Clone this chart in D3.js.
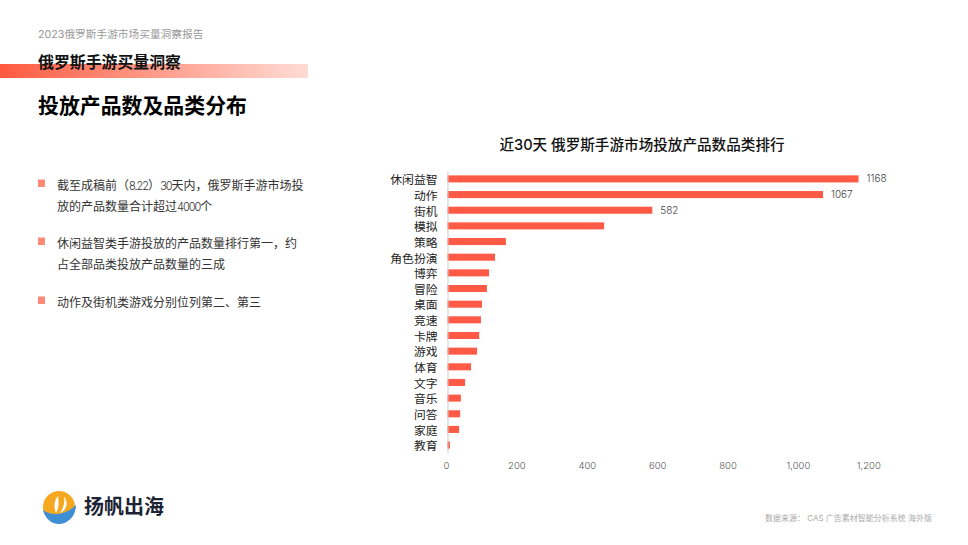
<!DOCTYPE html>
<html>
<head>
<meta charset="utf-8">
<script src="https://cdn.jsdelivr.net/npm/d3@7"></script>
<style>
  html, body { margin: 0; padding: 0; background: #fff; }
  svg { display: block; }
  text { font-family: Inter, "Noto Sans CJK SC", sans-serif; }
</style>
</head>
<body>
<div id="chart"></div>
<script>
// Values
var categories = ["休闲益智", "动作", "街机", "模拟", "策略", "角色扮演", "博弈", "冒险", "桌面", "竞速", "卡牌", "游戏", "体育", "文字", "音乐", "问答", "家庭", "教育"];
var productCounts = [1168, 1067, 582, 445, 166, 135, 118, 112, 98, 95, 90, 84, 67, 50, 38, 36, 33, 7];
var labelled = ["休闲益智", "动作", "街机"];
var xTicks = [0, 200, 400, 600, 800, 1000, 1200];
var bullets = [
  ["截至成稿前（8.22）30天内，俄罗斯手游市场投", "放的产品数量合计超过4000个"],
  ["休闲益智类手游投放的产品数量排行第一，约", "占全部品类投放产品数量的三成"],
  ["动作及街机类游戏分别位列第二、第三"]
];

var svg = d3.select("#chart").append("svg").attr("width", 968).attr("height", 545);

// Header band with the fade to the right
var grad = svg.append("defs").append("linearGradient").attr("id", "band");
grad.append("stop").attr("offset", "0%").attr("stop-color", "#ff5a40");
grad.append("stop").attr("offset", "100%").attr("stop-color", "#ffdcd4");
svg.append("rect").attr("x", 0).attr("y", 64).attr("width", 308).attr("height", 14).attr("fill", "url(#band)");

svg.append("text").attr("x", 38).attr("y", 38).attr("font-size", 10.7).attr("fill", "#999").text("2023俄罗斯手游市场买量洞察报告");
svg.append("text").attr("x", 38).attr("y", 68).attr("font-size", 15.9).attr("font-weight", 700).attr("fill", "#111").text("俄罗斯手游买量洞察");
svg.append("text").attr("x", 38).attr("y", 113).attr("font-size", 20.9).attr("font-weight", 700).attr("fill", "#000").text("投放产品数及品类分布");

// Left text column, digits are set tighter than the Chinese text
var bulletTop = [186, 244, 303];
bullets.forEach(function (lines, i) {
  svg.append("rect").attr("x", 38).attr("y", bulletTop[i] - 6.5).attr("width", 7).attr("height", 7.5).attr("fill", "#fd8a76");
  lines.forEach(function (line, j) {
    var t = svg.append("text").attr("x", 57).attr("y", bulletTop[i] + 3.5 + j * 21.5).attr("font-size", 12).attr("fill", "#333");
    line.split(/([0-9.]+)/).forEach(function (part) {
      var s = t.append("tspan").text(part);
      if (/^[0-9.]+$/.test(part)) s.attr("font-size", 11).attr("font-weight", 300).attr("letter-spacing", -1);
    });
  });
});

// Chart
var x = d3.scaleLinear().domain([0, 1200]).range([447.5, 869.8]);
var y = d3.scaleBand().domain(categories).range([171, 453]).paddingInner(0.55).paddingOuter(0.28);

svg.append("text").attr("x", 642).attr("y", 150).attr("text-anchor", "middle").attr("font-size", 14.6).attr("font-weight", 500).attr("fill", "#111").text("近30天 俄罗斯手游市场投放产品数品类排行");

svg.selectAll("rect.bar").data(categories).enter().append("rect")
  .attr("class", "bar")
  .attr("x", x(0))
  .attr("y", function (d) { return y(d); })
  .attr("width", function (d, i) { return x(productCounts[i]) - x(0); })
  .attr("height", y.bandwidth())
  .attr("fill", "#ff5a45");

var yAxis = svg.append("g").attr("transform", "translate(" + x(0) + ",0)")
  .call(d3.axisLeft(y).tickSize(0).tickPadding(10));
yAxis.select(".domain").attr("stroke", "#ccc");
yAxis.selectAll("text").attr("font-size", 11.8).attr("fill", "#222").attr("dy", "0.45em");

var xAxis = svg.append("g").attr("transform", "translate(-1.5,454)")
  .call(d3.axisBottom(x).tickValues(xTicks).tickSize(0).tickPadding(8).tickFormat(d3.format(",")));
xAxis.select(".domain").remove();
xAxis.selectAll("text").attr("font-size", 9.5).attr("font-weight", 300).attr("fill", "#555");

svg.selectAll("text.value").data(labelled).enter().append("text")
  .attr("class", "value")
  .attr("x", function (d) { return x(productCounts[categories.indexOf(d)]) + 8; })
  .attr("y", function (d) { return y(d) + y.bandwidth() / 2 + 3.5; })
  .attr("font-size", 10).attr("font-weight", 300).attr("fill", "#444")
  .text(function (d) { return productCounts[categories.indexOf(d)]; });

// Logo
var logo = svg.append("g").attr("transform", "translate(59,507)");
logo.append("circle").attr("r", 16).attr("fill", "#f5a81f");
logo.append("path").attr("d", "M-3,6 C-6,-1 -4,-8 -1,-11 C0,-5 0,1 -3,6 Z M1,6 C5,0 6,-5 5,-11 C9,-5 9,2 1,6 Z").attr("fill", "#fff");
logo.append("path").attr("d", "M-16,3 C-8,9 6,9 17,-2 C17,10 8,17 0,17 C-8,17 -14,11 -16,3 Z").attr("fill", "#3f8fd6");
svg.append("text").attr("x", 84).attr("y", 514).attr("font-size", 20).attr("font-weight", 700).attr("fill", "#1c2434").text("扬帆出海");

// Source
svg.append("text").attr("x", 765).attr("y", 521).attr("font-size", 8).attr("fill", "#aaa").text("数据来源： CAS 广告素材智能分析系统 海外版");
</script>
</body>
</html>
